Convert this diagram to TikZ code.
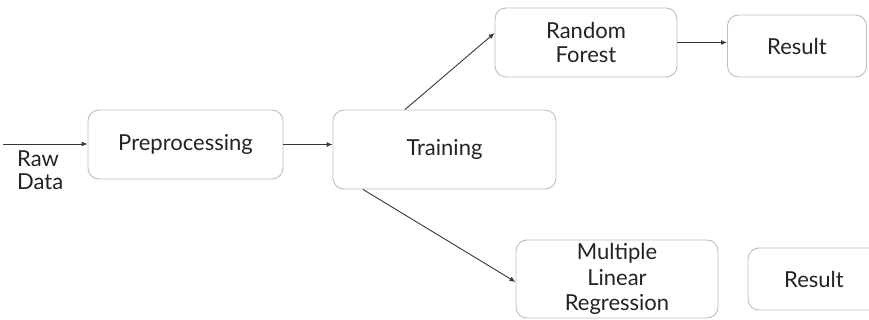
\documentclass[tikz,border=0pt]{standalone}
\usepackage{fontspec}
\setmainfont{Lato}
\usetikzlibrary{arrows.meta}
\definecolor{boxline}{RGB}{185,190,198}
\definecolor{txt}{RGB}{35,35,35}
\definecolor{arr}{RGB}{55,55,55}
\begin{document}
\begin{tikzpicture}[x=1pt,y=-1pt,
  box/.style={draw=boxline,line width=0.9pt,rounded corners=11pt,fill=white,
    text=txt,align=center,inner sep=0pt,
    font=\fontsize{22}{23.5}\selectfont},
  conn/.style={draw=arr,line width=0.9pt,-{Latex[length=6pt,width=5pt]}}]
\useasboundingbox (0,0) rectangle (869,320);
\node[box,minimum width=195pt,minimum height=69pt] (pre) at (185.5,144.5) {Preprocessing};
\node[box,minimum width=223pt,minimum height=79pt] (train) at (444.5,149.5) {Training};
\node[box,minimum width=182pt,minimum height=69pt] (rf) at (586,42.5) {Random\\Forest};
\node[box,minimum width=139pt,minimum height=62pt] (res1) at (797,46) {Result};
\node[box,minimum width=202pt,minimum height=78pt,font=\fontsize{22}{25.5}\selectfont] (mlr) at (617,279) {Multiple\\Linear\\Regression};
\node[box,minimum width=132pt,minimum height=62pt] (res2) at (814,279) {Result};
\node[anchor=north west,align=left,inner sep=0pt,text=txt,font=\fontsize{22}{22.5}\selectfont] (raw) at (17,151) {Raw\\Data};
\coordinate (rawstart) at (3,144);
\draw[conn] (rawstart) -- (rawstart -| pre.west);
\draw[conn] (pre.east) -- (pre.east -| train.west);
\draw[conn] ([xshift=-39.5pt]train.north) -- ([yshift=9.5pt]rf.west);
\draw[conn] ([xshift=-81.5pt]train.south) -- ([yshift=-3pt]mlr.west);
\draw[conn] (rf.east) -- (rf.east -| res1.west);
\end{tikzpicture}
\end{document}
